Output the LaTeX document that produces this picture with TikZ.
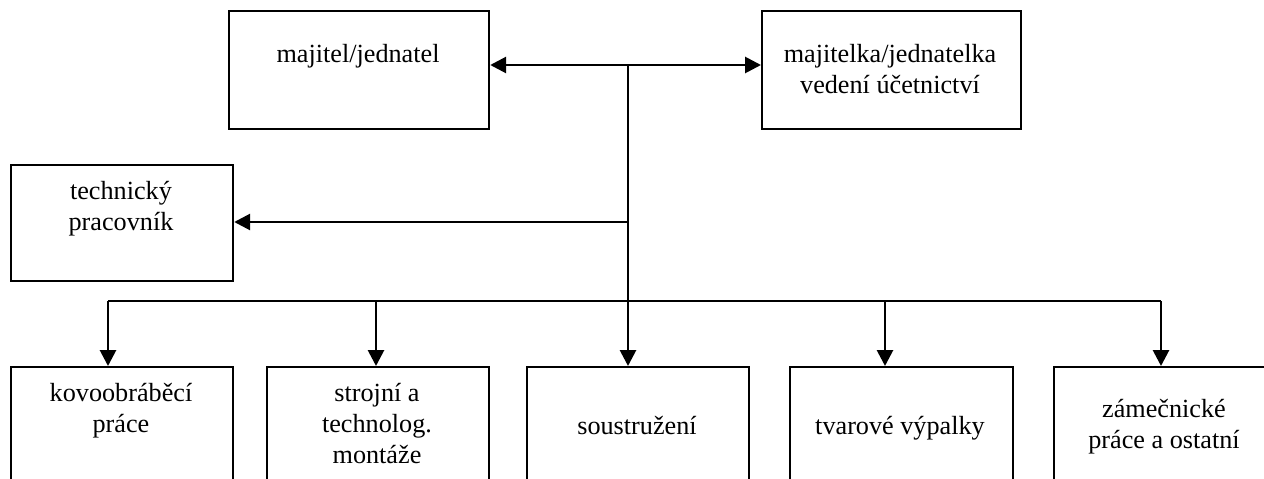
\documentclass[tikz,border=0pt]{standalone}
\usepackage{fontspec}
\setmainfont{Liberation Serif}
\usetikzlibrary{arrows.meta}
\tikzset{
  box/.style={draw, line width=2.2pt, rectangle, anchor=north west, inner sep=0pt},
  lbl/.style={align=center, anchor=base, inner sep=0pt, font={\fontsize{26.2}{31}\selectfont}},
  conn/.style={line width=2.8pt},
  arr/.style={conn, -{Triangle[length=16pt,width=16pt]}},
  darr/.style={conn, {Triangle[length=16pt,width=16pt]}-{Triangle[length=16pt,width=16pt]}}
}
\begin{document}
\begin{tikzpicture}[x=1pt,y=-1pt]
\useasboundingbox (0,0) rectangle (1264,479);
\fill[white] (0,0) rectangle (1264,479);
\clip (0,0) rectangle (1264,479);
% boxes
\node[box, minimum width=260pt, minimum height=118pt] (maj) at (228,10) {};
\node[box, minimum width=259pt, minimum height=118pt] (mka) at (761,10) {};
\node[box, minimum width=222pt, minimum height=116pt] (tech) at (10,164) {};
\node[box, minimum width=222pt, minimum height=160pt] (b1) at (10,366) {};
\node[box, minimum width=222pt, minimum height=160pt] (b2) at (266,366) {};
\node[box, minimum width=222pt, minimum height=160pt] (b3) at (526,366) {};
\node[box, minimum width=223pt, minimum height=160pt] (b4) at (789,366) {};
\node[box, minimum width=223pt, minimum height=160pt] (b5) at (1053,366) {};
% texts (anchor = baseline of last line)
\node[lbl] (tmaj) at (358,62) {majitel/jednatel};
\node[lbl] (tmka) at (890,93) {majitelka/jednatelka\\vedení účetnictví};
\node[lbl] (ttech) at (121,230) {technický\\pracovník};
\node[lbl] (tb1) at (121,432) {kovoobráběcí\\práce};
\node[lbl] (tb2) at (377,463) {strojní a\\technolog.\\montáže};
\node[lbl] (tb3) at (637,434) {soustružení};
\node[lbl] (tb4) at (900,434) {tvarové výpalky};
\node[lbl] (tb5) at (1164,448) {zámečnické\\práce a ostatní};
% junctions
\coordinate (j1) at (628,65);
\coordinate (j2) at (628,222);
\coordinate (busL) at (108,301);
\coordinate (bus2) at (376,301);
\coordinate (bus4) at (885,301);
\coordinate (busR) at (1161,301);
% connectors
\draw[darr] (maj.east |- j1) -- (mka.west |- j1);
\draw[arr] (j1) -- (j1 |- b3.north);
\draw[arr] (j2) -- (tech.east |- j2);
\draw[conn] (busL) -- (busR);
\draw[arr] (busL) -- (busL |- b1.north);
\draw[arr] (bus2) -- (bus2 |- b2.north);
\draw[arr] (bus4) -- (bus4 |- b4.north);
\draw[arr] (busR) -- (busR |- b5.north);
\end{tikzpicture}
\end{document}
